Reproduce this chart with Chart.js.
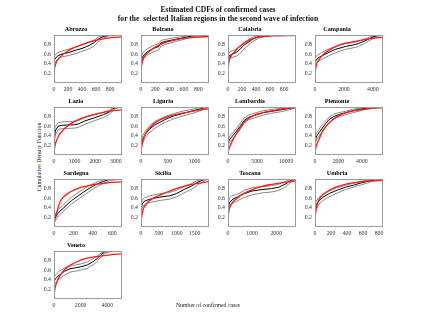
<!DOCTYPE html>
<html><head><meta charset="utf-8">
<script src="https://cdn.jsdelivr.net/npm/chart.js@4.4.0/dist/chart.umd.min.js"></script>
<style>
body{margin:0;background:#fff;width:423px;height:336px;position:relative;overflow:hidden;font-family:"Liberation Serif","Times New Roman",serif;-webkit-font-smoothing:antialiased;}
#title{position:absolute;left:0;top:5px;width:436px;text-align:center;font-weight:bold;font-size:7.6px;line-height:9px;color:#111;white-space:pre;opacity:0.999;will-change:transform;}
#ylab{position:absolute;left:39px;top:157px;transform:translate(-50%,-50%) rotate(-90deg);font-size:5.8px;color:#222;white-space:nowrap;}
#xlab{position:absolute;left:208px;top:305px;transform:translate(-50%,-50%);font-size:5.8px;color:#222;white-space:nowrap;opacity:0.999;will-change:transform;}
canvas{position:absolute;}
</style></head><body>
<div id="title">Estimated CDFs of confirmed cases
for the  selected Italian regions in the second wave of infection</div>
<div id="ylab">Cumulative Density Function</div>
<div id="xlab">Number of confirmed cases</div>
<script>
const regions = ['Abruzzo','Bolzano','Calabria','Campania','Lazio','Liguria','Lombardia','Piemonte','Sardegna','Sicilia','Toscana','Umbria','Veneto'];
const xMaxes = [970, 950, 970, 4700, 3300, 1270, 11700, 5800, 700, 1900, 2820, 850, 5100];
const xTickLists = [[0,200,400,600,800],[0,200,400,600,800],[0,200,400,600,800],[0,2000,4000],[0,1000,2000,3000],[0,500,1000],[0,5000,10000],[0,2000,4000],[0,200,400,600],[0,500,1000,1500],[0,1000,2000],[0,200,400,600,800],[0,2000,4000]];
const yTicks = [0.2,0.4,0.6,0.8];

const abruzzoEmp = [[0,0.02],[0,0.35],[10,0.48],[40,0.55],[100,0.6],[200,0.63],[300,0.68],[400,0.72],[500,0.78],[580,0.85],[640,0.92],[700,0.97],[780,0.99],[970,1]];
const abruzzoHi = [[0,0.05],[0,0.45],[10,0.56],[40,0.62],[100,0.66],[200,0.7],[300,0.75],[400,0.79],[500,0.85],[580,0.9],[640,0.96],[700,0.99],[780,1],[970,1]];
const abruzzoLo = [[0,0.01],[0,0.26],[10,0.4],[40,0.48],[100,0.54],[200,0.57],[300,0.61],[400,0.66],[500,0.71],[580,0.78],[640,0.87],[700,0.94],[780,0.98],[970,1]];
const abruzzoFit = [[0,0.03],[5,0.25],[15,0.35],[30,0.42],[80,0.53],[150,0.62],[250,0.71],[400,0.8],[550,0.87],[700,0.92],[850,0.95],[970,0.96]];

const bolzanoEmp = [[0,0.02],[0,0.4],[15,0.52],[50,0.6],[100,0.66],[170,0.72],[250,0.76],[280,0.84],[350,0.87],[450,0.9],[550,0.93],[650,0.96],[750,0.99],[820,1],[950,1]];
const bolzanoHi = [[0,0.05],[0,0.5],[15,0.6],[50,0.67],[100,0.72],[170,0.78],[250,0.82],[280,0.89],[350,0.91],[450,0.94],[550,0.96],[650,0.98],[750,1],[950,1]];
const bolzanoLo = [[0,0.01],[0,0.3],[15,0.44],[50,0.53],[100,0.59],[170,0.65],[250,0.69],[280,0.77],[350,0.81],[450,0.85],[550,0.89],[650,0.93],[750,0.97],[820,0.99],[950,1]];
const bolzanoFit = [[0,0.03],[5,0.3],[15,0.42],[40,0.53],[80,0.61],[150,0.7],[250,0.79],[380,0.86],[550,0.92],[750,0.95],[950,0.97]];

const calabriaEmp = [[0,0.02],[0,0.45],[20,0.57],[60,0.6],[120,0.64],[170,0.7],[220,0.78],[300,0.86],[360,0.92],[430,0.96],[520,0.98],[650,0.995],[970,1]];
const calabriaHi = [[0,0.05],[0,0.55],[20,0.65],[60,0.67],[120,0.71],[170,0.77],[220,0.84],[300,0.91],[360,0.96],[430,0.98],[520,0.99],[650,1],[970,1]];
const calabriaLo = [[0,0.01],[0,0.36],[20,0.5],[60,0.53],[120,0.56],[170,0.61],[220,0.7],[300,0.8],[360,0.87],[430,0.93],[520,0.97],[650,0.99],[970,1]];
const calabriaFit = [[0,0.03],[5,0.3],[15,0.45],[40,0.55],[80,0.63],[150,0.74],[250,0.85],[350,0.92],[450,0.96],[600,0.98],[970,0.99]];

const campaniaEmp = [[0,0.02],[0,0.3],[50,0.45],[200,0.52],[500,0.57],[900,0.63],[1400,0.7],[2100,0.76],[2600,0.79],[3000,0.82],[3400,0.87],[3800,0.93],[4300,0.99],[4700,1]];
const campaniaHi = [[0,0.05],[0,0.4],[50,0.53],[200,0.59],[500,0.64],[900,0.7],[1400,0.76],[2100,0.82],[2600,0.84],[3000,0.87],[3400,0.91],[3800,0.96],[4300,1],[4700,1]];
const campaniaLo = [[0,0.01],[0,0.2],[50,0.37],[200,0.45],[500,0.5],[900,0.56],[1400,0.63],[2100,0.7],[2600,0.73],[3000,0.76],[3400,0.82],[3800,0.89],[4300,0.97],[4700,0.99]];
const campaniaFit = [[0,0.03],[20,0.2],[80,0.35],[300,0.5],[600,0.6],[1000,0.69],[1500,0.77],[2100,0.83],[2700,0.86],[3300,0.9],[4000,0.93],[4700,0.95]];

const lazioEmp = [[0,0.02],[0,0.3],[60,0.5],[200,0.6],[400,0.62],[1000,0.63],[1200,0.65],[1500,0.71],[2000,0.78],[2400,0.84],[2700,0.9],[2850,0.96],[3000,0.99],[3300,1]];
const lazioHi = [[0,0.05],[0,0.4],[60,0.6],[200,0.67],[400,0.69],[1000,0.7],[1200,0.72],[1500,0.78],[2000,0.84],[2400,0.89],[2700,0.94],[2850,0.98],[3000,1],[3300,1]];
const lazioLo = [[0,0.01],[0,0.2],[60,0.41],[200,0.53],[400,0.55],[1000,0.56],[1200,0.58],[1500,0.64],[2000,0.72],[2400,0.78],[2700,0.85],[2850,0.92],[3000,0.97],[3300,1]];
const lazioFit = [[0,0.02],[20,0.12],[80,0.25],[200,0.38],[400,0.5],[700,0.62],[1000,0.7],[1500,0.79],[2000,0.85],[2500,0.9],[3000,0.93],[3300,0.94]];

const liguriaEmp = [[0,0.02],[0,0.2],[30,0.32],[80,0.43],[150,0.53],[250,0.62],[350,0.68],[450,0.74],[600,0.81],[800,0.87],[1000,0.93],[1150,0.97],[1200,1],[1270,1]];
const liguriaHi = [[0,0.05],[0,0.28],[30,0.4],[80,0.5],[150,0.6],[250,0.69],[350,0.75],[450,0.8],[600,0.86],[800,0.92],[1000,0.96],[1150,1],[1270,1]];
const liguriaLo = [[0,0.01],[0,0.13],[30,0.25],[80,0.36],[150,0.46],[250,0.55],[350,0.62],[450,0.68],[600,0.75],[800,0.82],[1000,0.88],[1150,0.94],[1270,1]];
const liguriaFit = [[0,0.02],[10,0.15],[40,0.32],[100,0.47],[200,0.61],[300,0.7],[450,0.78],[600,0.83],[900,0.9],[1100,0.94],[1270,0.96]];

const lombardiaEmp = [[0,0.02],[0,0.25],[300,0.33],[800,0.4],[1500,0.5],[2200,0.62],[2800,0.72],[3500,0.78],[4500,0.82],[6000,0.88],[7500,0.91],[9000,0.94],[10500,0.97],[11300,0.99],[11700,1]];
const lombardiaHi = [[0,0.05],[0,0.31],[300,0.39],[800,0.46],[1500,0.56],[2200,0.68],[2800,0.77],[3500,0.83],[4500,0.87],[6000,0.92],[7500,0.95],[9000,0.97],[10500,0.99],[11300,1],[11700,1]];
const lombardiaLo = [[0,0.01],[0,0.19],[300,0.27],[800,0.34],[1500,0.44],[2200,0.56],[2800,0.67],[3500,0.73],[4500,0.77],[6000,0.83],[7500,0.87],[9000,0.9],[10500,0.94],[11300,0.97],[11700,1]];
const lombardiaFit = [[0,0.02],[100,0.1],[400,0.2],[900,0.33],[1500,0.45],[2100,0.56],[2800,0.68],[3300,0.74],[4200,0.81],[5000,0.85],[6500,0.9],[8000,0.93],[10000,0.97],[11700,0.99]];

const piemonteEmp = [[0,0.02],[0,0.3],[150,0.4],[500,0.52],[900,0.65],[1200,0.74],[1600,0.8],[2000,0.84],[2600,0.88],[3200,0.92],[4000,0.96],[4800,0.99],[5500,1],[5800,1]];
const piemonteHi = [[0,0.05],[0,0.38],[150,0.47],[500,0.59],[900,0.71],[1200,0.79],[1600,0.85],[2000,0.88],[2600,0.91],[3200,0.95],[4000,0.98],[4800,1],[5800,1]];
const piemonteLo = [[0,0.01],[0,0.22],[150,0.33],[500,0.45],[900,0.58],[1200,0.68],[1600,0.75],[2000,0.79],[2600,0.84],[3200,0.88],[4000,0.93],[4800,0.97],[5500,0.99],[5800,1]];
const piemonteFit = [[0,0.02],[50,0.12],[150,0.22],[375,0.35],[650,0.5],[950,0.6],[1530,0.74],[2400,0.86],[3100,0.91],[3850,0.94],[4800,0.97],[5800,0.99]];

const sardegnaEmp = [[0,0.02],[0,0.15],[45,0.3],[100,0.4],[180,0.55],[250,0.65],[320,0.75],[400,0.85],[450,0.9],[510,0.95],[580,1],[700,1]];
const sardegnaHi = [[0,0.05],[0,0.21],[45,0.36],[100,0.47],[180,0.62],[250,0.72],[320,0.81],[400,0.9],[450,0.94],[510,0.98],[580,1],[700,1]];
const sardegnaLo = [[0,0.01],[0,0.09],[45,0.23],[100,0.33],[180,0.48],[250,0.58],[320,0.68],[400,0.79],[450,0.85],[510,0.91],[580,0.97],[700,1]];
const sardegnaFit = [[0,0.02],[10,0.18],[30,0.32],[62,0.52],[100,0.63],[166,0.73],[269,0.82],[400,0.88],[550,0.92],[700,0.94]];

const siciliaEmp = [[0,0.02],[0,0.3],[30,0.48],[100,0.54],[250,0.58],[500,0.62],[800,0.65],[1000,0.7],[1200,0.78],[1400,0.85],[1550,0.92],[1700,0.97],[1800,1],[1900,1]];
const siciliaHi = [[0,0.05],[0,0.4],[30,0.56],[100,0.61],[250,0.65],[500,0.69],[800,0.72],[1000,0.77],[1200,0.84],[1400,0.9],[1550,0.96],[1700,0.99],[1800,1],[1900,1]];
const siciliaLo = [[0,0.01],[0,0.2],[30,0.4],[100,0.47],[250,0.51],[500,0.55],[800,0.58],[1000,0.63],[1200,0.71],[1400,0.78],[1550,0.86],[1700,0.93],[1800,0.98],[1900,1]];
const siciliaFit = [[0,0.02],[10,0.15],[30,0.27],[67,0.38],[150,0.48],[257,0.56],[450,0.64],[637,0.7],[900,0.78],[1110,0.83],[1350,0.88],[1590,0.91],[1900,0.95]];

const toscanaEmp = [[0,0.02],[0,0.3],[50,0.5],[200,0.58],[400,0.63],[700,0.7],[1000,0.75],[1400,0.78],[1800,0.8],[2100,0.83],[2400,0.9],[2600,0.97],[2750,1],[2820,1]];
const toscanaHi = [[0,0.05],[0,0.4],[50,0.6],[150,0.65],[300,0.67],[500,0.71],[700,0.77],[1000,0.82],[1400,0.84],[1800,0.86],[2100,0.89],[2400,0.95],[2600,0.99],[2820,1]];
const toscanaLo = [[0,0.01],[0,0.2],[50,0.4],[200,0.5],[400,0.55],[700,0.62],[1000,0.67],[1400,0.71],[1800,0.73],[2100,0.76],[2400,0.84],[2600,0.93],[2750,0.98],[2820,1]];
const toscanaFit = [[0,0.02],[10,0.2],[70,0.4],[200,0.52],[357,0.59],[550,0.67],[786,0.73],[1050,0.79],[1360,0.84],[1700,0.88],[2070,0.91],[2500,0.94],[2820,0.96]];

const umbriaEmp = [[0,0.02],[0,0.3],[15,0.45],[50,0.55],[100,0.62],[180,0.7],[280,0.77],[380,0.83],[480,0.87],[580,0.92],[680,0.96],[760,0.99],[800,1],[850,1]];
const umbriaHi = [[0,0.05],[0,0.4],[15,0.53],[50,0.62],[100,0.68],[180,0.76],[280,0.82],[380,0.87],[480,0.91],[580,0.95],[680,0.98],[760,1],[850,1]];
const umbriaLo = [[0,0.01],[0,0.2],[15,0.37],[50,0.48],[100,0.55],[180,0.63],[280,0.71],[380,0.78],[480,0.83],[580,0.88],[680,0.93],[760,0.97],[800,0.99],[850,1]];
const umbriaFit = [[0,0.02],[3,0.2],[10,0.33],[33,0.5],[70,0.62],[136,0.72],[260,0.83],[400,0.9],[550,0.94],[700,0.96],[850,0.97]];

const venetoEmp = [[0,0.02],[0,0.35],[100,0.42],[400,0.5],[800,0.58],[1200,0.63],[1600,0.65],[2000,0.67],[2500,0.71],[3000,0.79],[3300,0.86],[3550,0.93],[3800,0.98],[4300,1],[5100,1]];
const venetoHi = [[0,0.05],[0,0.45],[100,0.5],[400,0.58],[800,0.65],[1200,0.69],[1600,0.71],[2000,0.73],[2500,0.77],[3000,0.85],[3300,0.91],[3550,0.96],[3800,0.99],[4300,1],[5100,1]];
const venetoLo = [[0,0.01],[0,0.25],[100,0.34],[400,0.42],[800,0.5],[1200,0.56],[1600,0.58],[2000,0.6],[2500,0.64],[3000,0.72],[3300,0.8],[3550,0.88],[3800,0.95],[4300,0.99],[5100,1]];
const venetoFit = [[0,0.02],[50,0.18],[150,0.3],[371,0.45],[600,0.55],[866,0.63],[1200,0.7],[1600,0.76],[2350,0.84],[3340,0.89],[4200,0.92],[5100,0.94]];

const empSeries = [abruzzoEmp,bolzanoEmp,calabriaEmp,campaniaEmp,lazioEmp,liguriaEmp,lombardiaEmp,piemonteEmp,sardegnaEmp,siciliaEmp,toscanaEmp,umbriaEmp,venetoEmp];
const hiSeries = [abruzzoHi,bolzanoHi,calabriaHi,campaniaHi,lazioHi,liguriaHi,lombardiaHi,piemonteHi,sardegnaHi,siciliaHi,toscanaHi,umbriaHi,venetoHi];
const loSeries = [abruzzoLo,bolzanoLo,calabriaLo,campaniaLo,lazioLo,liguriaLo,lombardiaLo,piemonteLo,sardegnaLo,siciliaLo,toscanaLo,umbriaLo,venetoLo];
const fitSeries = [abruzzoFit,bolzanoFit,calabriaFit,campaniaFit,lazioFit,liguriaFit,lombardiaFit,piemonteFit,sardegnaFit,siciliaFit,toscanaFit,umbriaFit,venetoFit];

// layout (pixels)
const colLefts = [54, 141, 228, 315];
const rowTops = [35, 107, 179, 251];
const boxW = 68, boxH = 48;
const padL = 24, padT = 10, padR = 4, padB = 12;
const FONT = '"Liberation Serif","Times New Roman",serif';

const boxPlugin = {
  id: 'boxFrame',
  afterDatasetsDraw(chart) {
    const a = chart.chartArea, ctx = chart.ctx;
    ctx.save();
    ctx.strokeStyle = '#9a9a9a';
    ctx.lineWidth = 1;
    ctx.strokeRect(Math.round(a.left) + 0.5, Math.round(a.top) + 0.5, Math.round(a.width) - 1, Math.round(a.height) - 1);
    ctx.restore();
  }
};

const toXY = arr => arr.map(p => ({x: p[0], y: p[1]}));

regions.forEach((name, i) => {
  const col = i % 4, row = Math.floor(i / 4);
  const cv = document.createElement('canvas');
  const W = padL + boxW + padR, H = padT + boxH + padB;
  cv.width = W; cv.height = H;
  cv.style.width = W + 'px'; cv.style.height = H + 'px';
  cv.style.left = (colLefts[col] - padL) + 'px';
  cv.style.top = (rowTops[row] - padT) + 'px';
  document.body.appendChild(cv);
  new Chart(cv, {
    type: 'line',
    data: {
      datasets: [
        {data: toXY(fitSeries[i]), borderColor: '#ff1a1a', borderWidth: 1.3, pointRadius: 0, tension: 0.35, cubicInterpolationMode: 'monotone'},
        {data: toXY(empSeries[i]), borderColor: '#000000', borderWidth: 1, pointRadius: 0, tension: 0},
        {data: toXY(hiSeries[i]), borderColor: '#555555', borderWidth: 0.7, pointRadius: 0, tension: 0},
        {data: toXY(loSeries[i]), borderColor: '#555555', borderWidth: 0.7, pointRadius: 0, tension: 0}
      ]
    },
    options: {
      responsive: false, animation: false, devicePixelRatio: 1,
      layout: {padding: {top: 0, right: padR, left: 0, bottom: 0}},
      plugins: {
        legend: {display: false}, tooltip: {enabled: false},
        title: {display: true, text: name, color: '#000', font: {family: FONT, size: 6.2, weight: 'bold', lineHeight: 1}, padding: {top: 1.2, bottom: 2.6}}
      },
      scales: {
        x: {
          type: 'linear', min: 0, max: xMaxes[i],
          afterBuildTicks: s => { s.ticks = xTickLists[i].map(v => ({value: v})); },
          afterFit: s => { s.height = padB; s.paddingLeft = 0; s.paddingRight = 0; },
          grid: {display: false, drawTicks: false}, border: {display: false},
          ticks: {font: {family: FONT, size: 5.8}, color: '#333', padding: 3, maxRotation: 0, autoSkip: false, callback: v => String(v)}
        },
        y: {
          type: 'linear', min: 0, max: 1,
          afterBuildTicks: s => { s.ticks = yTicks.map(v => ({value: v})); },
          afterFit: s => { s.width = padL; s.paddingTop = 0; s.paddingBottom = 0; },
          grid: {display: false, drawTicks: false}, border: {display: false},
          ticks: {font: {family: FONT, size: 5.8}, color: '#333', padding: 3, autoSkip: false, callback: v => String(v)}
        }
      }
    },
    plugins: [boxPlugin]
  });
});
</script>
</body></html>
